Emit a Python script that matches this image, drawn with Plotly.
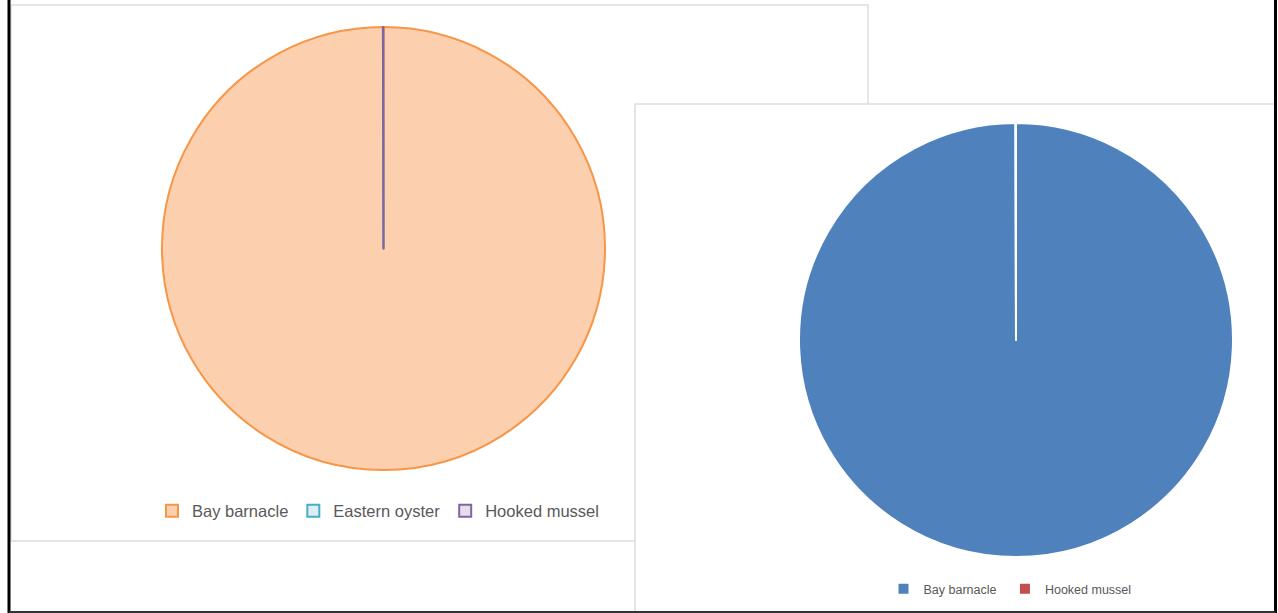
import plotly.graph_objects as go

W, H = 1278, 613

# Left chart: species counts (Eastern oyster absent, Hooked mussel a trace)
left_labels = ["Bay barnacle", "Eastern oyster", "Hooked mussel"]
left_values = [2400, 0, 1]

# Right chart: same survey without the oyster category.
# A trailing space keeps these entries separate from the left chart's legend.
right_labels = ["Bay barnacle ", "Hooked mussel "]
right_values = [2400, 1]


def px(x):
    return x / W


def py(y):
    return 1 - y / H


def dom(x0, x1, y0, y1):
    return dict(x=[px(x0), px(x1)], y=[py(y1), py(y0)])


fig = go.Figure()

fig.add_trace(go.Pie(
    labels=left_labels,
    values=left_values,
    sort=False,
    direction="clockwise",
    rotation=0,
    textinfo="none",
    hoverinfo="label+value+percent",
    marker=dict(
        colors=["#FCD0AE", "#DAEEF3", "#E5DFEC"],
        line=dict(color=["#F79646", "#4BACC6", "#8064A2"], width=2),
    ),
    domain=dom(162, 605, 27, 470),
    legend="legend",
))

fig.add_trace(go.Pie(
    labels=right_labels,
    values=right_values,
    sort=False,
    direction="clockwise",
    rotation=0,
    textinfo="none",
    hoverinfo="label+value+percent",
    marker=dict(
        colors=["#4F81BD", "#C0504D"],
        line=dict(color="#FFFFFF", width=2),
    ),
    domain=dom(799, 1233, 123, 557),
    legend="legend2",
))

shapes = [
    # left chart panel
    dict(type="rect", xref="paper", yref="paper",
         x0=px(11), x1=px(868), y0=py(541), y1=py(5),
         fillcolor="white", line=dict(color="#DDDDDD", width=1.5), layer="below"),
    # right chart panel, overlapping the left one
    dict(type="rect", xref="paper", yref="paper",
         x0=px(635), x1=px(1275), y0=py(612), y1=py(104),
         fillcolor="white", line=dict(color="#DDDDDD", width=1.5), layer="below"),
    # outer frame
    dict(type="line", xref="paper", yref="paper",
         x0=px(9), x1=px(9), y0=0, y1=1, line=dict(color="black", width=3)),
    dict(type="line", xref="paper", yref="paper",
         x0=px(1275.5), x1=px(1275.5), y0=0, y1=1, line=dict(color="black", width=3)),
    dict(type="line", xref="paper", yref="paper",
         x0=px(9), x1=px(1275.5), y0=py(612), y1=py(612), line=dict(color="#333333", width=2)),
]

fig.update_layout(
    width=W, height=H,
    margin=dict(l=0, r=0, t=0, b=0),
    paper_bgcolor="white",
    plot_bgcolor="white",
    shapes=shapes,
    legend=dict(
        orientation="h",
        x=px(378), xanchor="center",
        y=py(511), yanchor="middle",
        font=dict(family="Liberation Sans, Arial, sans-serif", size=16.5, color="#595959"),
        bgcolor="rgba(0,0,0,0)",
        itemclick=False, itemdoubleclick=False,
    ),
    legend2=dict(
        orientation="h",
        x=px(1012), xanchor="center",
        y=py(589), yanchor="middle",
        font=dict(family="Liberation Sans, Arial, sans-serif", size=12.5, color="#595959"),
        bgcolor="rgba(0,0,0,0)",
        itemclick=False, itemdoubleclick=False,
    ),
)

fig.write_html("out.html")
